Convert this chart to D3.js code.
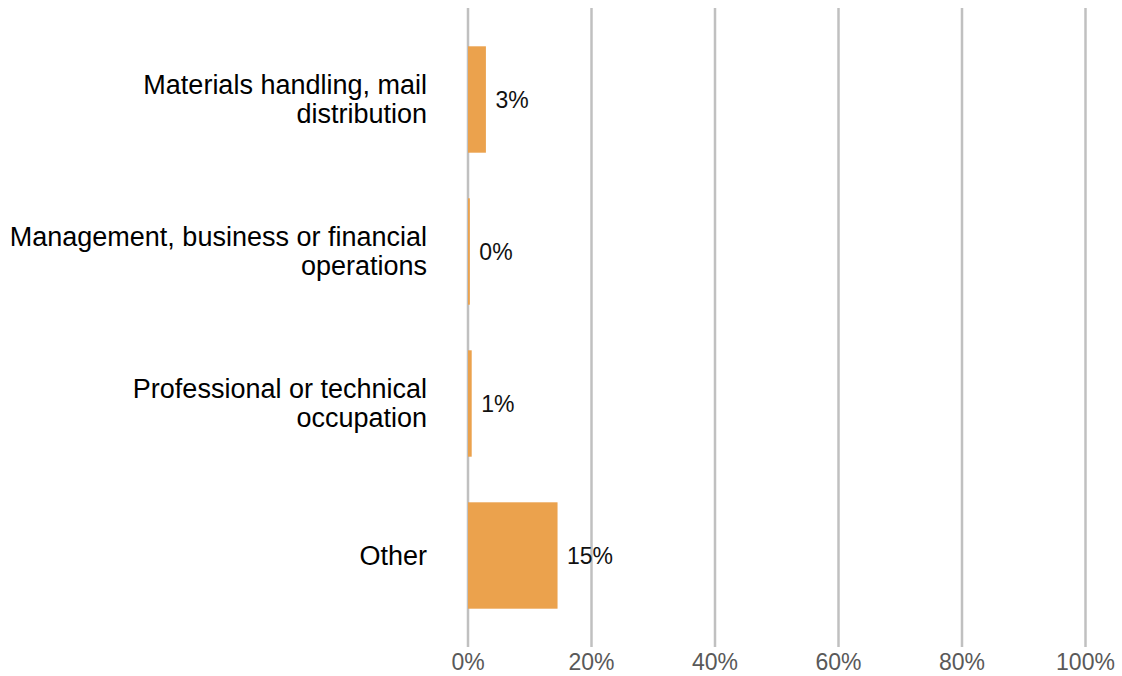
<!DOCTYPE html>
<html><head><meta charset="utf-8">
<script src="https://cdn.jsdelivr.net/npm/d3@7/dist/d3.min.js"></script>
<style>body{margin:0;background:#fff;}svg{display:block;font-family:"Liberation Sans",Arial,sans-serif;}</style>
</head><body>
<svg id="chart" width="1122" height="676"></svg>
<script>
const categories = [
  ["Materials handling, mail", "distribution"],
  ["Management, business or financial", "operations"],
  ["Professional or technical", "occupation"],
  ["Other"]
];
const values = [2.9, 0.3, 0.6, 14.5];
const valueLabels = ["3%", "0%", "1%", "15%"];
const tickValues = [0, 20, 40, 60, 80, 100];

const svg = d3.select("#chart");
const x = d3.scaleLinear().domain([0, 100]).range([468, 1085.5]);
const keys = categories.map((c, i) => i);
const y = d3.scaleBand().domain(keys).range([23.5, 631.5]).paddingInner(0.3).paddingOuter(0.15);

// grid
svg.append("g").selectAll("line").data(tickValues).join("line")
  .attr("x1", d => x(d)).attr("x2", d => x(d))
  .attr("y1", 8).attr("y2", 647)
  .attr("stroke", "#c0c0c0").attr("stroke-width", 2.5);

// x tick labels
svg.append("g").selectAll("text").data(tickValues).join("text")
  .attr("x", d => x(d)).attr("y", 670)
  .attr("text-anchor", "middle")
  .attr("font-size", 23).attr("fill", "#595959")
  .text(d => d + "%");

// bars
svg.append("g").selectAll("rect").data(values).join("rect")
  .attr("x", x(0)).attr("y", (d, i) => y(i))
  .attr("width", d => x(d) - x(0)).attr("height", y.bandwidth())
  .attr("fill", "#eba24d");

// value labels
svg.append("g").selectAll("text").data(values).join("text")
  .attr("x", d => x(d) + 9.5).attr("y", (d, i) => y(i) + y.bandwidth() / 2)
  .attr("dy", "0.35em").attr("font-size", 23).attr("fill", "#111")
  .text((d, i) => valueLabels[i]);

// category labels
const lineH = 29;
const cl = svg.append("g").selectAll("text").data(categories).join("text")
  .attr("text-anchor", "end").attr("font-size", 27).attr("fill", "#000")
  .attr("transform", (d, i) => `translate(427,${y(i) + y.bandwidth() / 2})`);
cl.selectAll("tspan").data(d => d.map((t, j) => ({t, j, n: d.length}))).join("tspan")
  .attr("x", 0)
  .attr("y", d => (d.j - (d.n - 1) / 2) * lineH)
  .attr("dy", "0.35em")
  .text(d => d.t);
</script>
</body></html>
